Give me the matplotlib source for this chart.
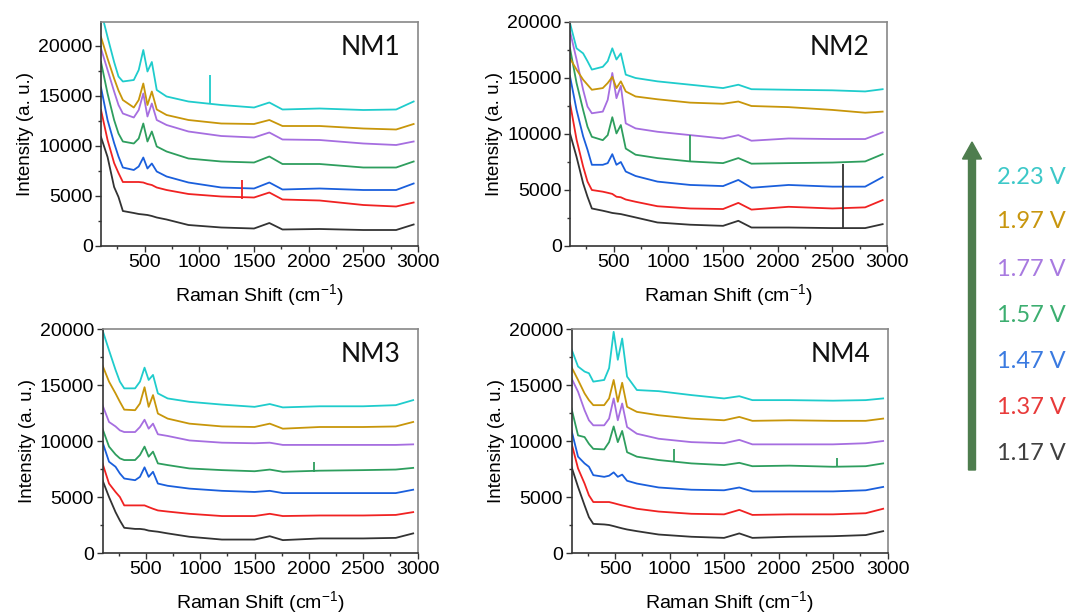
import matplotlib.pyplot as plt
from matplotlib.patches import FancyArrow
from matplotlib.ticker import MultipleLocator

plt.rcParams['font.family'] = ['Liberation Sans', 'DejaVu Sans']
plt.rcParams['mathtext.default'] = 'regular'

# Raman shift sample points (cm-1), shared by every spectrum
shift = [100, 160, 220, 260, 300, 400, 445, 487, 525, 565, 610, 700, 900,
         1200, 1500, 1640, 1760, 2100, 2500, 2800, 2960]

voltages = ['1.17 V', '1.37 V', '1.47 V', '1.57 V', '1.77 V', '1.97 V', '2.23 V']
line_colors = ['#333333', '#f02222', '#1a5fdc', '#2e9e5e', '#a66ee0', '#c8960a', '#1fcccc']
text_colors = ['#404040', '#e83a3a', '#3a7ae0', '#3cae70', '#a87ae0', '#c8960e', '#3cc8c8']

# intensities (a. u.), one row per voltage, low to high
nm1 = [
    [10900, 8900, 5900, 4900, 3500, 3300, 3200, 3150, 3100, 3000, 2850, 2650, 2100, 1850, 1750, 2300, 1650, 1700, 1600, 1600, 2150],
    [13600, 10600, 8300, 7300, 6400, 6400, 6400, 6350, 6200, 6100, 5850, 5600, 5200, 4950, 4850, 5350, 4650, 4550, 4100, 3950, 4350],
    [15850, 12600, 10300, 8950, 7850, 7600, 7950, 8850, 7750, 8250, 7450, 6950, 6350, 5850, 5750, 6350, 5650, 5750, 5600, 5600, 6250],
    [18400, 15250, 12600, 11250, 10450, 10250, 10750, 12250, 10450, 11450, 9950, 9450, 8750, 8450, 8350, 8950, 8200, 8200, 7850, 7850, 8450],
    [19750, 17600, 15450, 14100, 13250, 12850, 13600, 15250, 12950, 14250, 12600, 12100, 11450, 11000, 10850, 11350, 10650, 10600, 10250, 10100, 10450],
    [20900, 18750, 16750, 15550, 14600, 13850, 14600, 16250, 14100, 15450, 13650, 13100, 12600, 12250, 12200, 12600, 12000, 12000, 11750, 11650, 12200],
    [23500, 20900, 18400, 16950, 16450, 16600, 17600, 19600, 17450, 18400, 15600, 14950, 14450, 14100, 13850, 14350, 13650, 13750, 13600, 13650, 14450],
]
nm2 = [
    [10050, 7950, 5600, 4400, 3350, 3150, 3050, 2950, 2900, 2850, 2750, 2550, 2100, 1900, 1800, 2250, 1650, 1650, 1600, 1600, 1950],
    [12750, 9500, 7100, 5750, 5000, 4850, 4750, 4650, 4400, 4350, 4150, 3950, 3550, 3350, 3300, 3850, 3250, 3500, 3350, 3450, 4100],
    [15150, 12150, 9800, 8600, 7250, 7250, 7400, 8200, 7250, 7500, 6650, 6250, 5750, 5450, 5350, 5900, 5200, 5450, 5300, 5300, 6150],
    [17650, 14550, 12150, 10650, 9750, 9450, 9900, 11500, 10050, 10800, 8700, 8150, 7850, 7550, 7400, 7850, 7350, 7400, 7450, 7550, 8200],
    [19150, 16650, 13950, 12450, 11850, 12000, 13050, 15450, 13200, 14300, 10950, 10500, 10200, 9900, 9600, 9900, 9400, 9600, 9550, 9550, 10150],
    [16750, 15750, 14850, 14400, 13950, 14100, 14550, 15100, 14100, 14700, 13800, 13350, 13100, 12800, 12700, 12900, 12500, 12400, 12150, 11900, 12000],
    [19900, 17650, 17200, 16500, 15750, 16000, 16500, 17650, 16650, 17200, 15300, 15000, 14700, 14400, 14100, 14400, 14000, 13950, 13900, 13800, 14000],
]
nm3 = [
    [6500, 5000, 3650, 2900, 2250, 2150, 2150, 2100, 2000, 1950, 1900, 1750, 1450, 1200, 1200, 1500, 1150, 1300, 1300, 1350, 1750],
    [8000, 6200, 5450, 5000, 4250, 4250, 4250, 4250, 4100, 3950, 3800, 3700, 3500, 3300, 3300, 3500, 3300, 3350, 3350, 3400, 3650],
    [9900, 8150, 7700, 7100, 6650, 6500, 6800, 7650, 6800, 7250, 6200, 6000, 5750, 5550, 5450, 5550, 5350, 5350, 5350, 5350, 5650],
    [11100, 9500, 8800, 8450, 8300, 8300, 8750, 9500, 8600, 9050, 8000, 7850, 7550, 7400, 7300, 7450, 7250, 7350, 7400, 7450, 7600],
    [13200, 11700, 11300, 10950, 10800, 10800, 11250, 11900, 11100, 11550, 10600, 10450, 10050, 9850, 9800, 9850, 9650, 9650, 9650, 9650, 9700],
    [16750, 15300, 14250, 13500, 12800, 12750, 13350, 14800, 13050, 14100, 12450, 12000, 11550, 11300, 11250, 11550, 11100, 11250, 11250, 11300, 11700],
    [19900, 18100, 16350, 15300, 14700, 14700, 15300, 16550, 15450, 15900, 14250, 13800, 13500, 13250, 13050, 13300, 13000, 13100, 13100, 13200, 13650],
]
nm4 = [
    [7700, 5900, 4250, 3200, 2600, 2550, 2500, 2400, 2300, 2200, 2100, 1950, 1650, 1450, 1350, 1750, 1350, 1450, 1500, 1600, 1950],
    [9800, 7550, 6200, 5150, 4550, 4550, 4550, 4450, 4350, 4250, 4150, 3950, 3700, 3500, 3450, 3850, 3400, 3450, 3450, 3550, 3950],
    [10950, 8600, 8000, 7700, 6950, 6800, 6900, 7200, 6800, 7000, 6450, 6200, 5850, 5650, 5600, 5850, 5500, 5500, 5500, 5600, 5900],
    [12900, 10500, 10350, 9750, 9300, 9250, 9900, 11300, 9900, 10900, 9000, 8600, 8300, 8000, 7850, 8050, 7750, 7800, 7700, 7750, 8000],
    [15600, 14400, 12750, 11850, 11400, 11400, 12000, 13800, 11850, 13350, 11250, 10650, 10200, 9900, 9800, 10100, 9700, 9700, 9700, 9800, 10000],
    [16600, 15450, 14250, 13650, 13200, 13200, 13800, 15450, 13500, 15200, 13050, 12600, 12300, 12000, 11850, 12150, 11800, 11850, 11800, 11800, 12000],
    [18200, 16650, 16200, 16050, 15300, 15450, 16500, 19750, 17250, 19150, 15750, 14550, 14450, 14100, 13800, 14000, 13650, 13650, 13600, 13650, 13800],
]

# cosmic-ray spikes: (voltage index, shift, low, high)
nm1_spikes = [(6, 1100, 14200, 17100), (1, 1390, 4750, 6650)]
nm2_spikes = [(3, 1200, 7550, 9900), (0, 2600, 1500, 7350)]
nm3_spikes = [(3, 2050, 7250, 8150)]
nm4_spikes = [(3, 1040, 8200, 9250), (3, 2540, 7700, 8500)]

panels = [
    ('NM1', nm1, nm1_spikes, [101 / 1072, 1 - 246 / 615, 317 / 1072, 224 / 615], 22400),
    ('NM2', nm2, nm2_spikes, [570 / 1072, 1 - 246 / 615, 317 / 1072, 224 / 615], 20000),
    ('NM3', nm3, nm3_spikes, [102.5 / 1072, 1 - 553 / 615, 315 / 1072, 224 / 615], 20000),
    ('NM4', nm4, nm4_spikes, [571.5 / 1072, 1 - 553 / 615, 316 / 1072, 224 / 615], 20000),
]

fig = plt.figure(figsize=(10.72, 6.15), dpi=100)

for name, spectra, spikes, rect, ytop in panels:
    ax = fig.add_axes(rect)
    for ys, c in zip(spectra, line_colors):
        ax.plot(shift, ys, color=c, lw=1.3)
    for i, xs, lo, hi in spikes:
        ax.vlines(xs, lo, hi, color=line_colors[i], lw=1.3)

    ax.set_xlim(100, 3000)
    ax.set_ylim(0, ytop)
    ax.set_xticks([500, 1000, 1500, 2000, 2500, 3000])
    ax.set_yticks([0, 5000, 10000, 15000, 20000])
    ax.xaxis.set_minor_locator(MultipleLocator(250))
    ax.yaxis.set_minor_locator(MultipleLocator(2500))
    ax.tick_params(which='major', direction='out', length=4, width=1, labelsize=14, colors='#333333',
                   labelcolor='black', pad=2)
    ax.tick_params(which='minor', direction='out', length=2.5, width=1, colors='#333333')
    for s in ['left', 'bottom']:
        ax.spines[s].set_color('#333333')
    for s in ['top', 'right']:
        ax.spines[s].set_color('#888888')
    for s in ax.spines.values():
        s.set_linewidth(1.2)

    ax.set_xlabel('Raman Shift (cm$^{-1}$)', fontsize=14, labelpad=8)
    ax.set_ylabel('Intensity (a. u.)', fontsize=13.5, labelpad=3)
    ax.text(0.945, 0.885, name, transform=ax.transAxes, ha='right', va='center',
            fontsize=19, family=['Lato', 'DejaVu Sans'], color='#111111')

# voltage arrow and labels on the right, drawn in pixel coordinates
arrow_ax = fig.add_axes([0, 0, 1, 1], facecolor='none')
arrow_ax.set_xlim(0, 1072)
arrow_ax.set_ylim(615, 0)
arrow_ax.axis('off')
arrow_ax.add_patch(FancyArrow(972, 470, 0, -(470 - 142), width=7, head_width=19, head_length=17,
                              length_includes_head=True, color='#4e7d4e'))

label_y = [453, 407, 361, 315, 269, 222, 177]
for v, c, y in zip(voltages, text_colors, label_y):
    arrow_ax.text(997, y, v, color=c, fontsize=17, ha='left', va='center',
                  family=['Lato', 'DejaVu Sans'])

fig.savefig('out.png', dpi=100)
